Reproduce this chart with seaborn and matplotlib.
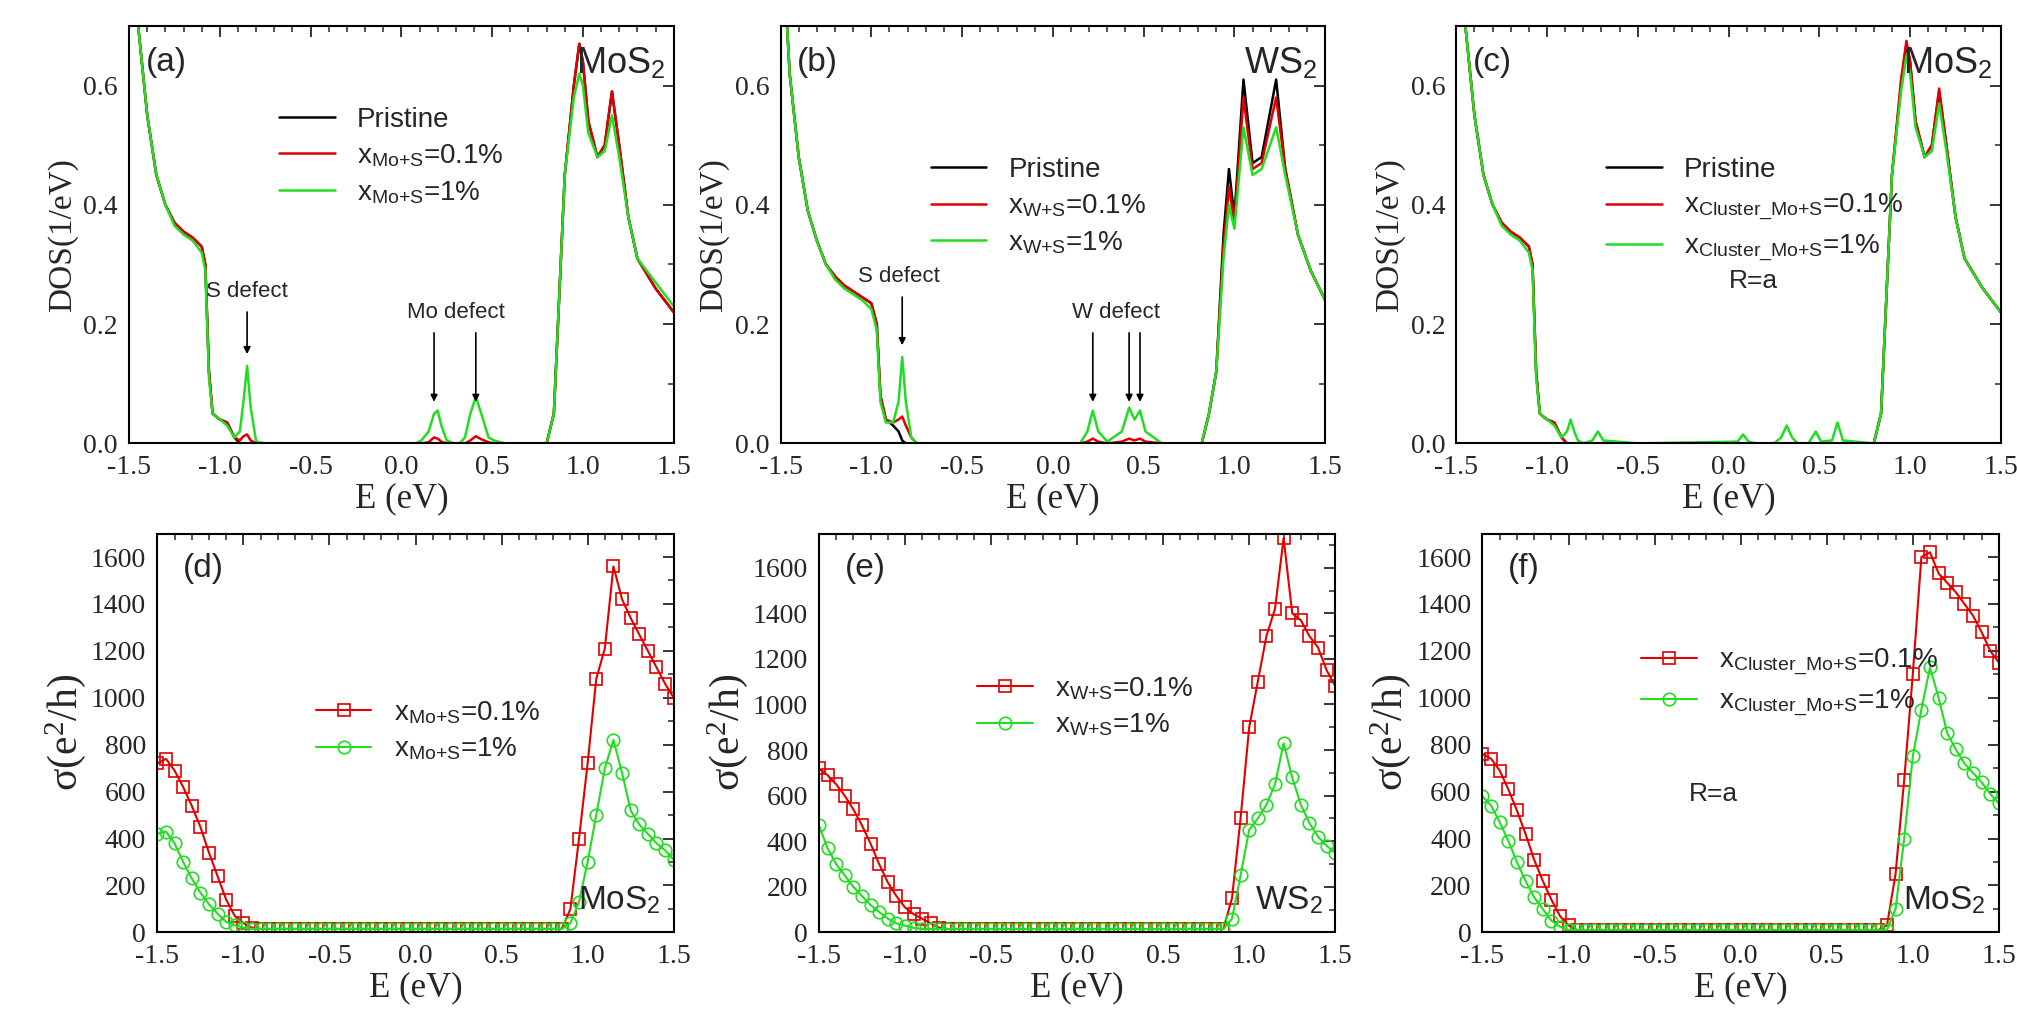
import numpy as np
import seaborn as sns
import matplotlib.pyplot as plt
from matplotlib.ticker import MultipleLocator, AutoMinorLocator

sns.set_style("white")
plt.rcParams['font.family'] = ['Liberation Sans', 'DejaVu Sans']
plt.rcParams['mathtext.fontset'] = 'custom'
plt.rcParams['mathtext.rm'] = 'Liberation Sans'
plt.rcParams['mathtext.it'] = 'Liberation Serif:italic'

# ---------------- DOS data (top row) ----------------
e_mos2 = [-1.5, -1.45, -1.4, -1.35, -1.3, -1.25, -1.2, -1.15, -1.1, -1.08, -1.06, -1.04, -1.0, -0.96,
          -0.92, -0.89, -0.87, -0.85, -0.83, -0.80, -0.75, -0.72, -0.69, -0.5, 0.05, 0.08, 0.11, 0.15, 0.18,
          0.2, 0.22, 0.25, 0.29, 0.32, 0.35, 0.38, 0.41, 0.44, 0.48, 0.51, 0.57, 0.6, 0.63, 0.8, 0.84,
          0.87, 0.9, 0.95, 0.98, 1.0, 1.03, 1.08, 1.12, 1.16, 1.2, 1.25, 1.3, 1.4, 1.5]
a_pristine = [0.9, 0.70, 0.55, 0.45, 0.40, 0.37, 0.355, 0.345, 0.33, 0.30, 0.12, 0.05, 0.04, 0.035,
              0.01, 0, 0, 0, 0, 0, 0, 0, 0, 0, 0, 0, 0, 0, 0, 0, 0, 0, 0, 0, 0, 0, 0, 0, 0, 0, 0, 0, 0, 0,
              0.05, 0.25, 0.45, 0.60, 0.67, 0.64, 0.54, 0.48, 0.50, 0.59, 0.50, 0.38, 0.31, 0.26, 0.22]
a_red = [0.9, 0.70, 0.55, 0.45, 0.40, 0.37, 0.355, 0.345, 0.33, 0.30, 0.12, 0.05, 0.04, 0.035,
         0.01, 0.005, 0.012, 0.015, 0.005, 0, 0, 0, 0, 0, 0, 0, 0, 0.002, 0.01, 0.008, 0.003, 0, 0, 0,
         0, 0.005, 0.012, 0.007, 0.002, 0, 0, 0, 0, 0, 0.05, 0.25, 0.45, 0.60, 0.67, 0.64, 0.54, 0.48,
         0.50, 0.59, 0.50, 0.38, 0.31, 0.26, 0.22]
a_green = [0.9, 0.70, 0.55, 0.45, 0.40, 0.365, 0.35, 0.34, 0.32, 0.29, 0.11, 0.05, 0.04, 0.03,
           0.01, 0.02, 0.07, 0.13, 0.06, 0.003, 0, 0, 0, 0, 0, 0, 0.005, 0.02, 0.05, 0.055, 0.03, 0.005,
           0, 0, 0.01, 0.05, 0.078, 0.05, 0.01, 0.005, 0, 0, 0, 0, 0.05, 0.25, 0.45, 0.58, 0.62, 0.60,
           0.52, 0.48, 0.49, 0.55, 0.48, 0.38, 0.31, 0.27, 0.23]
c_pristine = a_pristine
c_red = [0.9, 0.70, 0.55, 0.45, 0.40, 0.37, 0.355, 0.345, 0.33, 0.30, 0.12, 0.05, 0.04, 0.035,
         0.01, 0, 0, 0, 0, 0, 0, 0, 0, 0, 0, 0, 0, 0, 0, 0, 0, 0, 0, 0, 0, 0, 0, 0, 0, 0, 0, 0, 0, 0,
         0.05, 0.25, 0.45, 0.61, 0.675, 0.64, 0.54, 0.48, 0.50, 0.595, 0.50, 0.38, 0.31, 0.26, 0.22]
c_green = [0.9, 0.70, 0.55, 0.45, 0.40, 0.365, 0.35, 0.34, 0.32, 0.29, 0.11, 0.05, 0.04, 0.03,
           0.01, 0.02, 0.04, 0.02, 0.005, 0, 0.005, 0.02, 0.005, 0, 0.003, 0.015, 0.003, 0, 0, 0, 0, 0,
           0.01, 0.03, 0.01, 0, 0, 0, 0.02, 0.003, 0.005, 0.035, 0.005, 0, 0.05, 0.25, 0.45, 0.59,
           0.65, 0.62, 0.53, 0.48, 0.49, 0.57, 0.49, 0.38, 0.31, 0.26, 0.22]

e_ws2 = [-1.5, -1.45, -1.4, -1.35, -1.3, -1.25, -1.2, -1.15, -1.1, -1.05, -1.0, -0.97, -0.95, -0.92,
         -0.88, -0.85, -0.83, -0.81, -0.78, -0.75, -0.5, 0.15, 0.19, 0.22, 0.25, 0.3, 0.38, 0.42, 0.45,
         0.48, 0.51, 0.6, 0.82, 0.86, 0.9, 0.94, 0.97, 1.0, 1.05, 1.1, 1.15, 1.23, 1.28, 1.35, 1.42, 1.5]
b_pristine = [0.9, 0.62, 0.48, 0.39, 0.34, 0.30, 0.28, 0.265, 0.255, 0.245, 0.235, 0.2, 0.08, 0.04,
              0.03, 0.02, 0.005, 0, 0, 0, 0, 0, 0, 0, 0, 0, 0, 0, 0, 0, 0, 0, 0, 0.05, 0.12, 0.35, 0.46,
              0.38, 0.61, 0.47, 0.48, 0.61, 0.46, 0.35, 0.29, 0.24]
b_red = [0.9, 0.62, 0.48, 0.39, 0.34, 0.30, 0.28, 0.265, 0.255, 0.245, 0.235, 0.2, 0.08, 0.04,
         0.035, 0.04, 0.045, 0.03, 0.01, 0, 0, 0, 0.003, 0.008, 0.003, 0, 0.003, 0.008, 0.005, 0.008,
         0.003, 0, 0, 0.05, 0.12, 0.33, 0.43, 0.37, 0.58, 0.46, 0.47, 0.58, 0.46, 0.35, 0.29, 0.24]
b_green = [0.9, 0.62, 0.48, 0.39, 0.34, 0.30, 0.275, 0.26, 0.25, 0.24, 0.225, 0.19, 0.07, 0.035,
           0.035, 0.07, 0.145, 0.07, 0.01, 0, 0, 0, 0.02, 0.055, 0.02, 0.003, 0.02, 0.06, 0.04, 0.055,
           0.02, 0, 0, 0.05, 0.12, 0.31, 0.40, 0.36, 0.53, 0.45, 0.46, 0.53, 0.45, 0.35, 0.29, 0.24]

# ---------------- conductivity data (bottom row), E step 0.05 ----------------
e_sigma = np.round(np.arange(-1.5, 1.5001, 0.05), 2)

def fill(left, flat, right):
    return left + [flat] * (len(e_sigma) - len(left) - len(right)) + right

d_red = fill([720, 740, 690, 620, 540, 450, 340, 240, 140, 70, 40, 20], 15,
             [15, 100, 400, 720, 1080, 1210, 1560, 1420, 1340, 1270, 1200, 1130, 1060, 1000])
d_green = fill([420, 430, 380, 300, 230, 170, 120, 80, 45, 30, 20], 15,
               [15, 40, 130, 300, 500, 700, 820, 680, 520, 460, 420, 380, 350, 310])
e_red = fill([720, 690, 650, 600, 540, 470, 390, 300, 220, 160, 110, 80, 60, 40, 20], 15,
             [15, 150, 500, 900, 1100, 1300, 1420, 1730, 1400, 1370, 1300, 1250, 1150, 1080])
e_green = fill([470, 370, 300, 250, 200, 160, 120, 90, 60, 40, 30, 20], 15,
               [15, 60, 250, 450, 500, 560, 650, 830, 680, 560, 480, 420, 380, 350])
f_red = fill([760, 740, 690, 610, 520, 420, 310, 220, 140, 70, 30, 10], 10,
             [30, 250, 650, 1100, 1600, 1620, 1530, 1490, 1450, 1400, 1350, 1280, 1200, 1150])
f_green = fill([580, 540, 470, 390, 300, 220, 150, 100, 50, 25, 10], 10,
               [10, 100, 400, 750, 950, 1130, 1000, 850, 780, 720, 680, 640, 590, 550])

RED = '#e00000'
GREEN = '#22dd22'
SERIF = ['Liberation Serif', 'DejaVu Serif']

fig = plt.figure(figsize=(20.17, 10.36), dpi=100)
lefts_top = [0.064, 0.387, 0.722]
lefts_bot = [0.078, 0.406, 0.735]
W = 0.27
W2 = 0.256

def style(ax, ylim, ymaj, ymin_div):
    ax.set_xlim(-1.5, 1.5)
    ax.set_ylim(*ylim)
    ax.xaxis.set_major_locator(MultipleLocator(0.5))
    ax.xaxis.set_minor_locator(AutoMinorLocator(5))
    ax.yaxis.set_major_locator(MultipleLocator(ymaj))
    ax.yaxis.set_minor_locator(AutoMinorLocator(ymin_div))
    ax.tick_params(which='both', direction='in', top=True, right=True, labelsize=20)
    ax.tick_params(which='major', length=8, width=1.3, pad=8)
    ax.tick_params(which='minor', length=4, width=1.1)
    for s in ax.spines.values():
        s.set_linewidth(1.5)
        s.set_color('black')
    ax.set_xticks([-1.5, -1.0, -0.5, 0.0, 0.5, 1.0, 1.5])
    ax.set_xticklabels(['-1.5', '-1.0', '-0.5', '0.0', '0.5', '1.0', '1.5'], family=SERIF)
    ax.set_xlabel('E (eV)', family=SERIF, fontsize=25, labelpad=2)

top = [
    (e_mos2, a_pristine, a_red, a_green, 'Mo+S', '(a)', r'MoS$_2$'),
    (e_ws2, b_pristine, b_red, b_green, 'W+S', '(b)', r'WS$_2$'),
    (e_mos2, c_pristine, c_red, c_green, 'Cluster\_Mo+S', '(c)', r'MoS$_2$'),
]
for i, (ex, p, r, g, sub, tag, mat) in enumerate(top):
    ax = fig.add_axes([lefts_top[i], 0.572, W, 0.403])
    sub_tex = sub.replace('+', '{+}')
    sns.lineplot(x=ex, y=p, ax=ax, color='black', lw=1.8, sort=False, estimator=None, label='Pristine')
    sns.lineplot(x=ex, y=r, ax=ax, color=RED, lw=1.8, sort=False, estimator=None,
                 label=r'x$_{\mathrm{' + sub_tex + '}}$=0.1%')
    sns.lineplot(x=ex, y=g, ax=ax, color=GREEN, lw=1.8, sort=False, estimator=None,
                 label=r'x$_{\mathrm{' + sub_tex + '}}$=1%')
    style(ax, (0, 0.7), 0.2, 2)
    ax.set_yticks([0.0, 0.2, 0.4, 0.6])
    ax.set_yticklabels(['0.0', '0.2', '0.4', '0.6'], family=SERIF)
    ax.set_ylabel('DOS(1/eV)', family=SERIF, fontsize=24, labelpad=4)
    ax.text(0.03, 0.95, tag, transform=ax.transAxes, fontsize=24, va='top')
    ax.text(0.985, 0.95, mat, transform=ax.transAxes, fontsize=26, va='top', ha='right')
    ly = 0.84 if i == 0 else 0.72
    ax.legend(loc='upper left', bbox_to_anchor=(0.25, ly), frameon=False, fontsize=20,
              handlelength=2.0, labelspacing=0.35, borderpad=0)
    if i == 0:
        ax.text(-0.85, 0.245, 'S defect', fontsize=16, ha='center')
        ax.annotate('', xy=(-0.85, 0.145), xytext=(-0.85, 0.225),
                    arrowprops=dict(arrowstyle='-|>', color='black', lw=1.2))
        ax.text(0.3, 0.21, 'Mo defect', fontsize=16, ha='center')
        for xx in (0.18, 0.41):
            ax.annotate('', xy=(xx, 0.065), xytext=(xx, 0.19),
                        arrowprops=dict(arrowstyle='-|>', color='black', lw=1.2))
    elif i == 1:
        ax.text(-0.85, 0.27, 'S defect', fontsize=16, ha='center')
        ax.annotate('', xy=(-0.83, 0.16), xytext=(-0.83, 0.25),
                    arrowprops=dict(arrowstyle='-|>', color='black', lw=1.2))
        ax.text(0.35, 0.21, 'W defect', fontsize=16, ha='center')
        for xx in (0.22, 0.42, 0.48):
            ax.annotate('', xy=(xx, 0.065), xytext=(xx, 0.19),
                        arrowprops=dict(arrowstyle='-|>', color='black', lw=1.2))
    else:
        ax.text(0.0, 0.26, 'R=a', fontsize=19, ha='left')

bottom = [
    (d_red, d_green, 'Mo+S', '(d)', r'MoS$_2$', 1700),
    (e_red, e_green, 'W+S', '(e)', r'WS$_2$', 1750),
    (f_red, f_green, 'Cluster\_Mo+S', '(f)', r'MoS$_2$', 1700),
]
for i, (r, g, sub, tag, mat, ytop) in enumerate(bottom):
    ax = fig.add_axes([lefts_bot[i], 0.1, W2, 0.385])
    sub_tex = sub.replace('+', '{+}')
    sns.lineplot(x=e_sigma, y=r, ax=ax, color=RED, lw=1.5, marker='s', markersize=9,
                 markerfacecolor='none', markeredgecolor=RED, markeredgewidth=1.2,
                 sort=False, estimator=None, label=r'x$_{\mathrm{' + sub_tex + '}}$=0.1%')
    sns.lineplot(x=e_sigma, y=g, ax=ax, color=GREEN, lw=1.5, marker='o', markersize=9,
                 markerfacecolor='none', markeredgecolor=GREEN, markeredgewidth=1.2,
                 sort=False, estimator=None, label=r'x$_{\mathrm{' + sub_tex + '}}$=1%')
    style(ax, (0, ytop), 200, 2)
    ax.set_yticks(list(range(0, 1601, 200)))
    ax.set_yticklabels([str(v) for v in range(0, 1601, 200)], family=SERIF)
    ax.set_ylabel('σ(e$^{\\mathregular{2}}$/h)', family=SERIF, fontsize=30, labelpad=2)
    ax.text(0.05, 0.95, tag, transform=ax.transAxes, fontsize=24, va='top')
    ax.text(0.975, 0.04, mat, transform=ax.transAxes, fontsize=24, va='bottom', ha='right')
    ly = {0: 0.62, 1: 0.68, 2: 0.75}[i]
    ax.legend(loc='upper left', bbox_to_anchor=(0.28, ly), frameon=False, fontsize=20,
              handlelength=2.0, labelspacing=0.35, borderpad=0)
    if i == 2:
        ax.text(-0.3, 560, 'R=a', fontsize=19)

fig.savefig('out.png', dpi=100)
